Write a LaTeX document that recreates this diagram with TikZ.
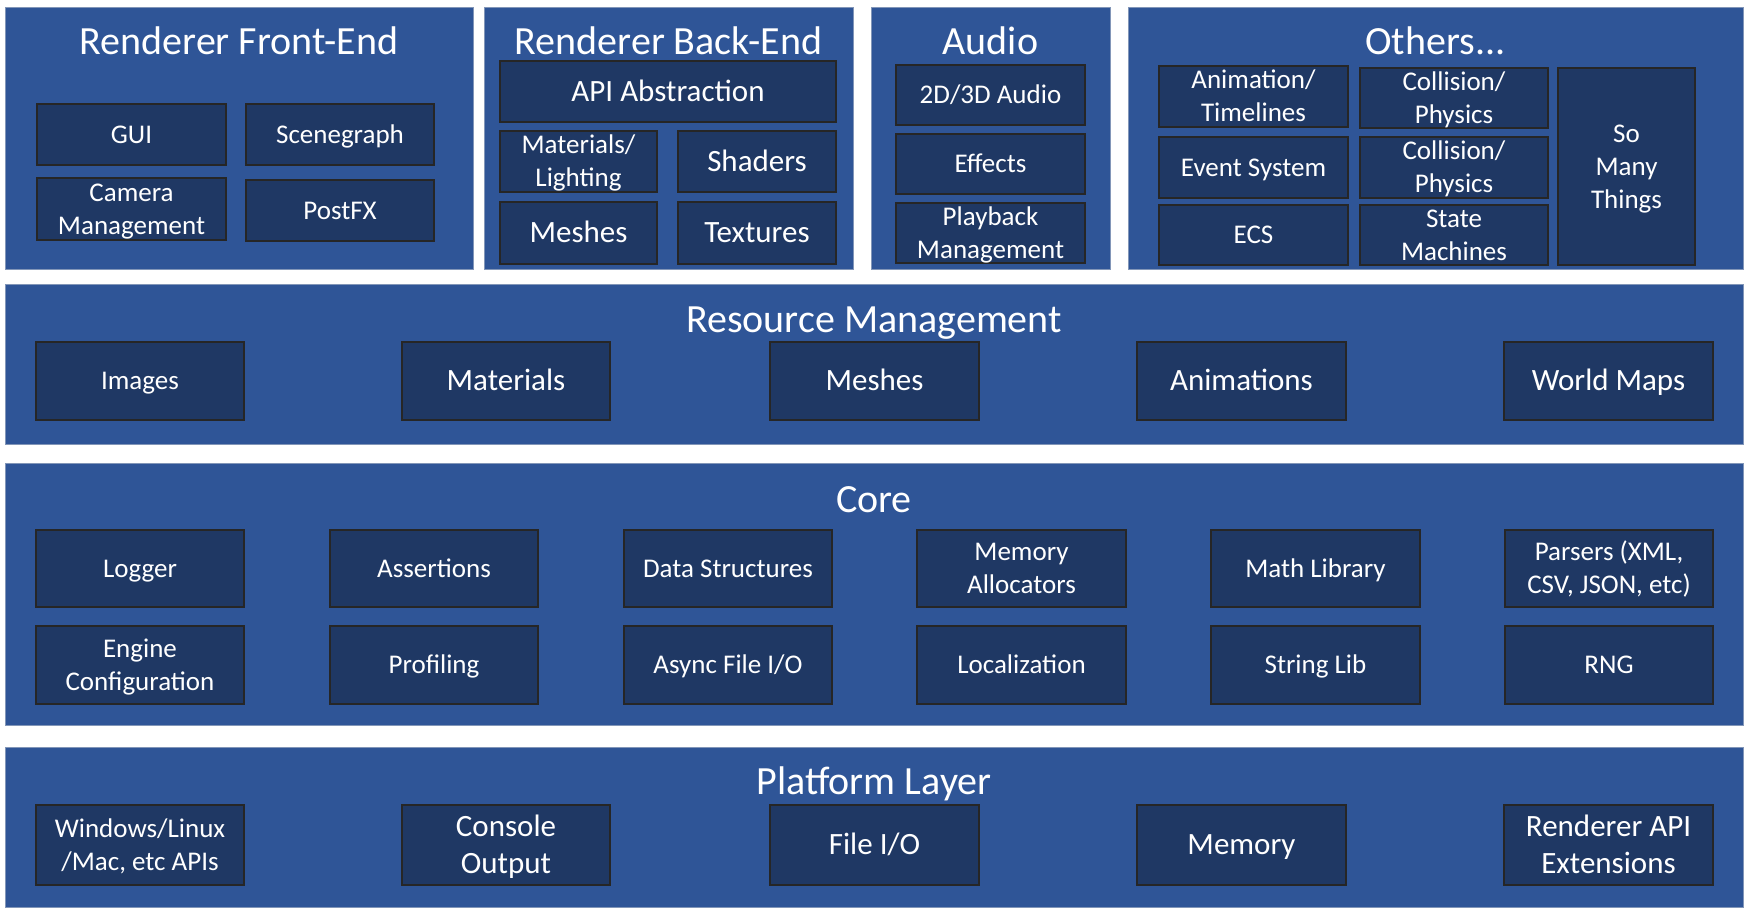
\documentclass[tikz,border=0pt]{standalone}
\usepackage{fontspec}
\setmainfont{Carlito}
\definecolor{panelblue}{HTML}{2F5597}
\definecolor{boxblue}{HTML}{1F3864}
\definecolor{paneledge}{HTML}{8296B8}

\tikzset{
  panel/.style={fill=panelblue, draw=paneledge, line width=1pt, inner sep=0pt},
  unit/.style={fill=boxblue, draw=black!85, line width=1.8pt, text=white,
    align=center, inner sep=0pt, font=\fontsize{27}{33}\selectfont},
  bigunit/.style={unit, font=\fontsize{31}{37}\selectfont},
  title/.style={text=white, anchor=base, inner sep=0pt,
    font=\fontsize{40}{48}\selectfont},
}

% one text line whose box is exactly as tall as a capital letter,
% so that every label is centred on its capitals
\newcommand\capln[1]{\smash{#1}\rule{0pt}{0.644em}}

% \layerbox{style}{name}{x1}{y1}{x2}{y2}{text}: a box given by its corners
\newcommand\layerbox[7]{%
  \node[#1, minimum width={#5-#3}, minimum height={#6-#4}] (#2)
    at ({(#3+#5)/2},{(#4+#6)/2}) {#7};}

\begin{document}
\begin{tikzpicture}[x=1pt, y=-1pt]
\useasboundingbox[fill=white] (0,0) rectangle (1746,910);

% ---------- panels ----------
\layerbox{panel}{fe}{5}{7}{473}{269}{}
\layerbox{panel}{be}{484}{7}{853}{269}{}
\layerbox{panel}{au}{871}{7}{1110}{269}{}
\layerbox{panel}{ot}{1128}{7}{1743}{269}{}
\layerbox{panel}{rm}{5}{284}{1743}{444}{}
\layerbox{panel}{co}{5}{463}{1743}{725}{}
\layerbox{panel}{pl}{5}{747}{1743}{907}{}

% ---------- panel titles ----------
\node[title] (feT) at (239,54) {Renderer Front-End};
\node[title] (beT) at (668.5,54) {Renderer Back-End};
\node[title] (auT) at (990.5,54) {Audio};
\node[title] (otT) at (1435.5,54) {Others...};
\node[title] (rmT) at (874,332) {Resource Management};
\node[title] (coT) at (874,512) {Core};
\node[title] (plT) at (874,794) {Platform Layer};

% ---------- renderer front-end ----------
\layerbox{unit}{gui}{37}{104}{226}{165}{\capln{GUI}}
\layerbox{unit}{scene}{246}{104}{434}{165}{\capln{Scenegraph}}
\layerbox{unit}{cam}{37}{178}{226}{240}{\capln{Camera}\\\capln{Management}}
\layerbox{unit}{postfx}{246}{180}{434}{241}{\capln{PostFX}}

% ---------- renderer back-end ----------
\layerbox{bigunit}{api}{500}{61}{836}{122}{\capln{API Abstraction}}
\layerbox{unit}{matl}{500}{131}{657}{192}{\capln{Materials/}\\\capln{Lighting}}
\layerbox{bigunit}{shaders}{678}{131}{836}{192}{\capln{Shaders}}
\layerbox{bigunit}{bemesh}{500}{202}{657}{264}{\capln{Meshes}}
\layerbox{bigunit}{tex}{678}{202}{836}{264}{\capln{Textures}}

% ---------- audio ----------
\layerbox{unit}{a3d}{896}{65}{1085}{125}{\capln{2D/3D Audio}}
\layerbox{unit}{fx}{896}{134}{1085}{194}{\capln{Effects}}
\layerbox{unit}{play}{896}{203}{1085}{263}{\capln{Playback}\\\capln{Management}}

% ---------- others ----------
\layerbox{unit}{anim}{1159}{66}{1348}{127}{\capln{Animation/}\\\capln{Timelines}}
\layerbox{unit}{coll1}{1360}{68}{1548}{128}{\capln{Collision/}\\\capln{Physics}}
\layerbox{unit}{event}{1159}{137}{1348}{198}{\capln{Event System}}
\layerbox{unit}{coll2}{1360}{137}{1548}{198}{\capln{Collision/}\\\capln{Physics}}
\layerbox{unit}{ecs}{1159}{205}{1348}{265}{\capln{ECS}}
\layerbox{unit}{state}{1360}{205}{1548}{265}{\capln{State}\\\capln{Machines}}
\layerbox{unit}{many}{1558}{68}{1695}{265}{\capln{So}\\\capln{Many}\\\capln{Things}}

% ---------- resource management ----------
\layerbox{unit}{images}{36}{342}{244}{420}{\capln{Images}}
\layerbox{bigunit}{rmat}{402}{342}{610}{420}{\capln{Materials}}
\layerbox{bigunit}{rmesh}{770}{342}{979}{420}{\capln{Meshes}}
\layerbox{bigunit}{ranim}{1137}{342}{1346}{420}{\capln{Animations}}
\layerbox{bigunit}{maps}{1504}{342}{1713}{420}{\capln{World Maps}}

% ---------- core ----------
\layerbox{unit}{logger}{36}{530}{244}{607}{\capln{Logger}}
\layerbox{unit}{assert}{330}{530}{538}{607}{\capln{Assertions}}
\layerbox{unit}{datas}{624}{530}{832}{607}{\capln{Data Structures}}
\layerbox{unit}{alloc}{917}{530}{1126}{607}{\capln{Memory}\\\capln{Allocators}}
\layerbox{unit}{mathl}{1211}{530}{1420}{607}{\capln{Math Library}}
\layerbox{unit}{parse}{1505}{530}{1713}{607}{\capln{Parsers (XML,}\\\capln{CSV, JSON, etc)}}
\layerbox{unit}{config}{36}{626}{244}{704}{\capln{Engine}\\\capln{Configuration}}
\layerbox{unit}{prof}{330}{626}{538}{704}{\capln{Profiling}}
\layerbox{unit}{afio}{624}{626}{832}{704}{\capln{Async File I/O}}
\layerbox{unit}{local}{917}{626}{1126}{704}{\capln{Localization}}
\layerbox{unit}{strl}{1211}{626}{1420}{704}{\capln{String Lib}}
\layerbox{unit}{rng}{1505}{626}{1713}{704}{\capln{RNG}}

% ---------- platform layer ----------
\layerbox{unit}{osapi}{36}{805}{244}{885}{\capln{Windows/Linux}\\\capln{/Mac, etc APIs}}
\layerbox{bigunit}{console}{402}{805}{610}{885}{\capln{Console}\\\capln{Output}}
\layerbox{bigunit}{fio}{770}{805}{979}{885}{\capln{File I/O}}
\layerbox{bigunit}{pmem}{1137}{805}{1346}{885}{\capln{Memory}}
\layerbox{bigunit}{rext}{1504}{805}{1713}{885}{\capln{Renderer API}\\\capln{Extensions}}
\end{tikzpicture}
\end{document}
